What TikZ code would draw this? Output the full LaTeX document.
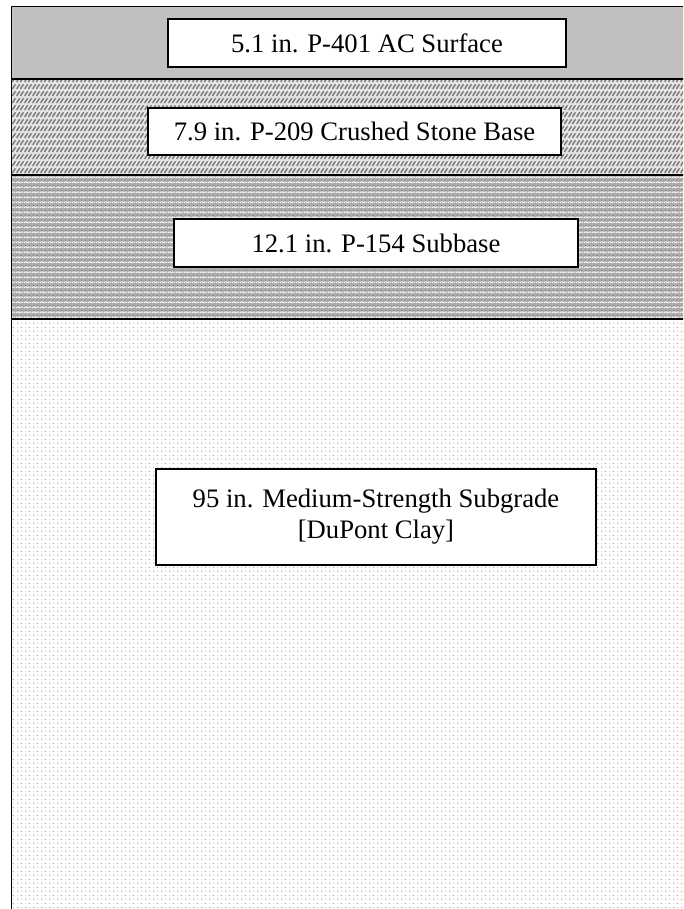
\documentclass[tikz,border=0pt]{standalone}
\usepackage{fontspec}
\setmainfont{Liberation Serif}
\usetikzlibrary{patterns}
\pgfdeclarepatternformonly{stonezig}{\pgfqpoint{-1pt}{-1pt}}{\pgfqpoint{7pt}{7pt}}{\pgfqpoint{6pt}{5.25pt}}{%
  \pgfsetlinewidth{1pt}%
  \pgfsetroundcap
  \pgfpathmoveto{\pgfqpoint{0.6pt}{1.0pt}}%
  \pgfpathcurveto{\pgfqpoint{1.6pt}{2.2pt}}{\pgfqpoint{1.8pt}{3.2pt}}{\pgfqpoint{2.6pt}{4.0pt}}%
  \pgfpathmoveto{\pgfqpoint{3.4pt}{1.0pt}}%
  \pgfpathcurveto{\pgfqpoint{4.4pt}{2.2pt}}{\pgfqpoint{4.6pt}{3.2pt}}{\pgfqpoint{5.4pt}{4.0pt}}%
  \pgfusepath{stroke}}
\pgfdeclarepatternformonly{subwave}{\pgfqpoint{0pt}{0pt}}{\pgfqpoint{6pt}{3.75pt}}{\pgfqpoint{6pt}{3.75pt}}{%
  \pgfsetlinewidth{0.7pt}%
  \pgfpathmoveto{\pgfqpoint{0pt}{1pt}}%
  \pgfpathcurveto{\pgfqpoint{1pt}{2.6pt}}{\pgfqpoint{2pt}{2.6pt}}{\pgfqpoint{3pt}{1pt}}%
  \pgfpathcurveto{\pgfqpoint{4pt}{2.6pt}}{\pgfqpoint{5pt}{2.6pt}}{\pgfqpoint{6pt}{1pt}}%
  \pgfusepath{stroke}}
\pgfdeclarepatternformonly{subdots}{\pgfqpoint{0pt}{0pt}}{\pgfqpoint{6pt}{3.75pt}}{\pgfqpoint{6pt}{3.75pt}}{%
  \pgfpathcircle{\pgfqpoint{1.5pt}{2.8pt}}{0.5pt}%
  \pgfpathcircle{\pgfqpoint{4.5pt}{2.8pt}}{0.5pt}%
  \pgfusepath{fill}}
\pgfdeclarepatternformonly{claydots}{\pgfqpoint{0pt}{0pt}}{\pgfqpoint{6pt}{6pt}}{\pgfqpoint{6pt}{6pt}}{%
  \pgfpathcircle{\pgfqpoint{1.5pt}{1.5pt}}{0.55pt}%
  \pgfpathcircle{\pgfqpoint{4.5pt}{4.5pt}}{0.55pt}%
  \pgfpathcircle{\pgfqpoint{4.5pt}{1.5pt}}{0.35pt}%
  \pgfpathcircle{\pgfqpoint{1.5pt}{4.5pt}}{0.35pt}%
  \pgfusepath{fill}}
\definecolor{acgray}{HTML}{C0C0C0}
\definecolor{basegray}{HTML}{E2E2E2}
\definecolor{subgray}{HTML}{ABABAB}
\tikzset{
  x=0.75pt, y=-0.75pt,
  layerline/.style={draw=black, line width=1.2pt},
  labelbox/.style={draw=black, line width=1pt, fill=white, inner sep=0pt,
    align=center, font=\fontsize{20}{23.25}\selectfont},
}
\begin{document}
\begin{tikzpicture}
\useasboundingbox (0,0) rectangle (683,909);
\clip (0,0) rectangle (683,909);
% layers
\fill[acgray] (11.5,6.5) rectangle (700,79);
\fill[basegray] (11.5,79) rectangle (700,175);
\fill[pattern=stonezig, pattern color=black!55] (11.5,79) rectangle (700,175);
\fill[subgray] (11.5,175) rectangle (700,319);
\fill[pattern=subwave, pattern color=white] (11.5,175) rectangle (700,319);
\fill[pattern=subdots, pattern color=black!65] (11.5,175) rectangle (700,319);
\fill[white] (11.5,319) rectangle (700,930);
\fill[pattern=claydots, pattern color=black!40] (11.5,319) rectangle (700,930);
% boundaries
\draw[layerline] (700,6.5) -- (11.5,6.5) -- (11.5,930);
\draw[layerline] (11.5,79) -- (700,79);
\draw[layerline] (11.5,175) -- (700,175);
\draw[layerline] (11.5,319) -- (700,319);
% labels
\node[labelbox, minimum width=298.5pt, minimum height=36pt] (ac) at (367,43) {5.1 in. P-401 AC Surface};
\node[labelbox, minimum width=309.75pt, minimum height=35.25pt] (base) at (354.5,131.5) {7.9 in. P-209 Crushed Stone Base};
\node[labelbox, minimum width=303pt, minimum height=36pt] (subbase) at (376,243) {12.1 in. P-154 Subbase};
\node[labelbox, minimum width=330pt, minimum height=72pt] (subgrade) at (376,517) {95 in. Medium-Strength Subgrade\\{}[DuPont Clay]};
\end{tikzpicture}
\end{document}
